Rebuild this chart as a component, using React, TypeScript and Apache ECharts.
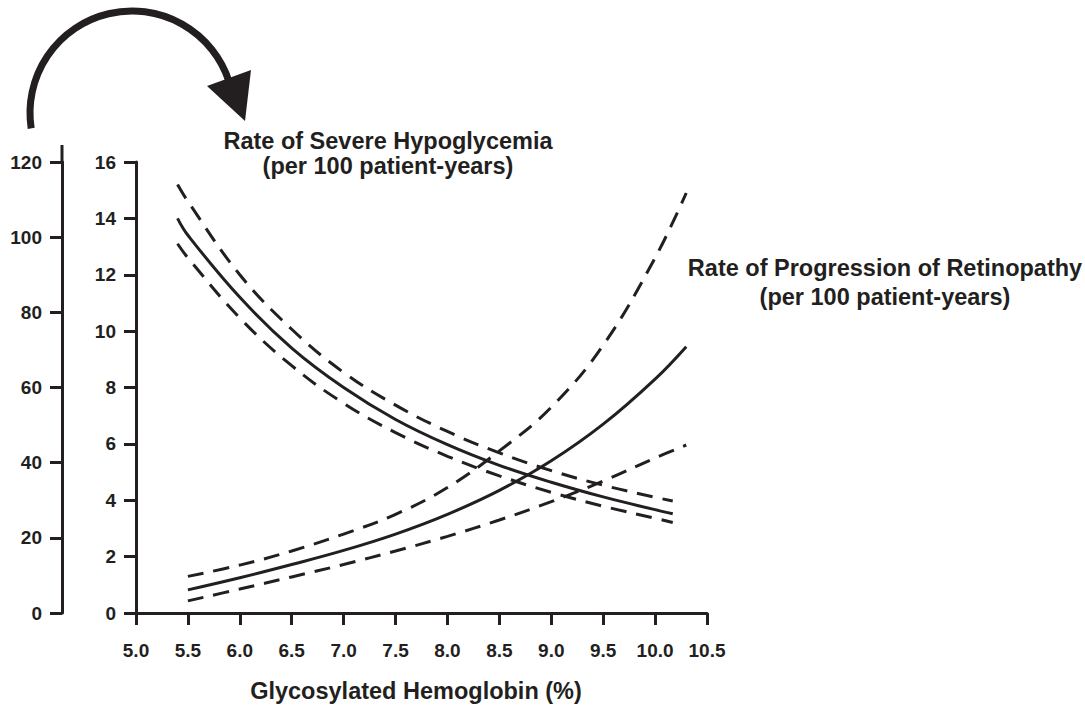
import React, { useEffect, useRef } from "react";
import * as echarts from "echarts";

// Glycosylated hemoglobin (%) sample points
const hbA1cRet = [5.5, 6.0, 6.5, 7.0, 7.5, 8.0, 8.5, 9.0, 9.5, 10.0, 10.3];
// Rate of progression of retinopathy (per 100 patient-years), inner axis 0-16
const retinopathyRate = [0.82, 1.25, 1.72, 2.22, 2.8, 3.5, 4.35, 5.4, 6.7, 8.3, 9.45];
const retinopathyUpper = [1.3, 1.7, 2.2, 2.8, 3.5, 4.45, 5.75, 7.3, 9.5, 12.6, 14.9];
const retinopathyLower = [0.43, 0.85, 1.28, 1.72, 2.2, 2.72, 3.3, 3.95, 4.68, 5.5, 5.96];

const hbA1cHypo = [5.4, 5.5, 6.0, 6.5, 7.0, 7.5, 8.0, 8.5, 9.0, 9.5, 10.0, 10.17];
// Rate of severe hypoglycemia (per 100 patient-years), outer axis 0-120
const hypoRate = [105, 100.5, 84, 70.5, 60, 51.5, 44.8, 39.3, 34.8, 30.9, 27.5, 26.4];
const hypoUpper = [114, 109.5, 90, 75.5, 64, 55.3, 48.3, 42.6, 37.9, 34.0, 30.8, 29.8];
const hypoLower = [98.25, 94.5, 78.5, 65.8, 55.8, 48, 41.7, 36.5, 32.1, 28.4, 25.2, 24.1];

const INK = "#231f20";
const FONT = "'Liberation Sans', Arial, Helvetica, sans-serif";

function pairs(xs: number[], ys: number[]) {
  return xs.map((x, i) => [x, ys[i]]);
}

export default function App() {
  const ref = useRef<HTMLDivElement>(null);
  useEffect(() => {
    if (!ref.current) return;
    const chart = echarts.init(ref.current, undefined, { renderer: "svg" });
    const solid = { color: INK, width: 3, type: "solid" as const };
    const dashed = { color: INK, width: 3, type: [16, 10] as any };
    const mk = (name: string, data: number[][], yIdx: number, ls: any) => ({
      name,
      type: "line",
      yAxisIndex: yIdx,
      data,
      smooth: 0.4,
      symbol: "none",
      lineStyle: ls,
      silent: true,
    });
    const axisCommon = {
      axisLine: { show: true, lineStyle: { color: INK, width: 3 } },
      axisTick: { show: true, length: 12, lineStyle: { color: INK, width: 3 } },
      splitLine: { show: false },
      axisLabel: {
        color: INK,
        fontFamily: FONT,
        fontWeight: "bold",
        fontSize: 19,
        margin: 20,
      },
    };
    const titleStyle = (text: string, lh: number) => ({
      text,
      fill: INK,
      font: `bold 23.5px ${FONT}`,
      align: "center",
      verticalAlign: "middle",
      lineHeight: lh,
    });
    chart.setOption({
      animation: false,
      backgroundColor: "#ffffff",
      grid: { left: 136, right: 378, top: 162, bottom: 100, containLabel: false },
      xAxis: {
        type: "value",
        min: 5,
        max: 10.5,
        interval: 0.5,
        ...axisCommon,
        axisLabel: {
          ...axisCommon.axisLabel,
          margin: 28,
          formatter: (v: number) => v.toFixed(1),
        },
      },
      yAxis: [
        {
          type: "value",
          min: 0,
          max: 16,
          interval: 2,
          position: "left",
          ...axisCommon,
        },
        {
          type: "value",
          min: 0,
          max: 120,
          interval: 20,
          position: "left",
          offset: 74,
          ...axisCommon,
        },
      ],
      series: [
        mk("Retinopathy", pairs(hbA1cRet, retinopathyRate), 0, solid),
        mk("Retinopathy upper", pairs(hbA1cRet, retinopathyUpper), 0, dashed),
        mk("Retinopathy lower", pairs(hbA1cRet, retinopathyLower), 0, dashed),
        mk("Hypoglycemia", pairs(hbA1cHypo, hypoRate), 1, solid),
        mk("Hypoglycemia upper", pairs(hbA1cHypo, hypoUpper), 1, dashed),
        mk("Hypoglycemia lower", pairs(hbA1cHypo, hypoLower), 1, dashed),
      ],
      graphic: [
        {
          type: "line",
          shape: { x1: 62, y1: 145, x2: 62, y2: 163 },
          style: { stroke: INK, lineWidth: 3 },
        },
        {
          type: "arc",
          shape: { cx: 132, cy: 113, r: 102, startAngle: 2.99, endAngle: 5.97, clockwise: true },
          style: { stroke: INK, lineWidth: 7, fill: "none" },
        },
        {
          type: "polygon",
          shape: { points: [[207, 86], [251, 70], [245, 121]] },
          style: { fill: INK },
        },
        {
          type: "text",
          x: 388,
          y: 153,
          style: titleStyle("Rate of Severe Hypoglycemia\n(per 100 patient-years)", 25),
        },
        {
          type: "text",
          x: 885,
          y: 282,
          style: titleStyle("Rate of Progression of Retinopathy\n(per 100 patient-years)", 29),
        },
        {
          type: "text",
          x: 416,
          y: 691,
          style: titleStyle("Glycosylated Hemoglobin (%)", 25),
        },
      ],
    });
    return () => chart.dispose();
  }, []);
  return (
    <div
      ref={ref}
      style={{ position: "fixed", left: 0, top: 0, width: 1085, height: 713 }}
    />
  );
}
